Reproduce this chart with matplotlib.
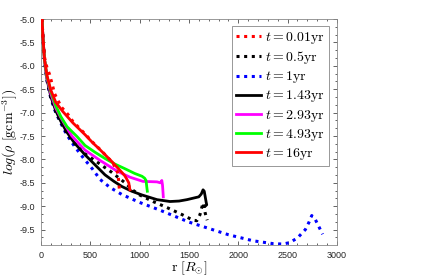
import matplotlib
matplotlib.use('Agg')
import matplotlib.pyplot as plt
from matplotlib.ticker import MultipleLocator, AutoMinorLocator

plt.rcParams['mathtext.fontset'] = 'cm'
plt.rcParams['axes.unicode_minus'] = False
plt.rcParams['font.family'] = ['Liberation Sans', 'DejaVu Sans']

# radius [R_sun] and log density for each snapshot
r_001 = [10, 20, 37, 60, 88, 139, 206, 274, 324, 426, 527, 600, 669, 730, 781, 795]
y_001 = [-5.0, -5.4, -5.83, -6.03, -6.19, -6.6, -6.88, -7.04, -7.19, -7.41, -7.64, -7.79, -7.94, -8.08, -8.3, -8.65]

r_05 = [10, 20, 35, 60, 100, 150, 200, 260, 340, 446, 578, 720, 852, 933, 1000, 1136, 1278, 1430, 1542, 1580, 1612, 1630, 1643, 1652, 1665, 1685]
y_05 = [-5.0, -5.4, -5.85, -6.3, -6.68, -6.98, -7.2, -7.43, -7.66, -7.88, -8.07, -8.28, -8.5, -8.66, -8.76, -8.9, -9.03, -9.18, -9.3, -9.31, -9.18, -9.03, -8.93, -9.0, -9.15, -9.3]

r_1 = [10, 20, 35, 60, 100, 150, 200, 260, 340, 430, 520, 600, 700, 820, 1000, 1200, 1500, 1900, 2150, 2350, 2450, 2520, 2600, 2680, 2720, 2745, 2780, 2820, 2855]
y_1 = [-5.0, -5.4, -5.85, -6.3, -6.7, -7.0, -7.22, -7.47, -7.72, -7.97, -8.2, -8.43, -8.6, -8.75, -8.92, -9.08, -9.34, -9.61, -9.74, -9.8, -9.81, -9.78, -9.68, -9.5, -9.33, -9.2, -9.28, -9.45, -9.6]

r_143 = [10, 20, 35, 60, 100, 150, 200, 260, 340, 446, 550, 649, 740, 821, 920, 1024, 1176, 1308, 1400, 1480, 1560, 1600, 1625, 1643, 1655, 1665, 1675, 1680, 1660, 1645]
y_143 = [-5.0, -5.4, -5.85, -6.28, -6.66, -6.96, -7.18, -7.41, -7.65, -7.9, -8.12, -8.33, -8.47, -8.58, -8.68, -8.76, -8.86, -8.9, -8.89, -8.86, -8.82, -8.8, -8.74, -8.65, -8.68, -8.8, -8.92, -8.97, -9.01, -9.0]

r_293 = [10, 20, 35, 60, 100, 150, 200, 264, 314, 446, 598, 771, 902, 1034, 1176, 1210, 1225, 1232, 1237, 1240]
y_293 = [-5.0, -5.4, -5.85, -6.25, -6.6, -6.9, -7.1, -7.33, -7.5, -7.8, -8.02, -8.25, -8.38, -8.47, -8.48, -8.5, -8.45, -8.55, -8.7, -8.8]

r_493 = [10, 20, 35, 60, 100, 150, 200, 264, 365, 446, 550, 649, 750, 852, 950, 1024, 1050, 1065, 1072, 1078]
y_493 = [-5.0, -5.4, -5.85, -6.22, -6.55, -6.85, -7.08, -7.3, -7.51, -7.7, -7.85, -7.98, -8.1, -8.2, -8.3, -8.36, -8.4, -8.45, -8.58, -8.68]

r_16 = [10, 20, 35, 60, 100, 150, 223, 324, 446, 527, 578, 650, 720, 821, 850, 872, 890, 902]
y_16 = [-5.0, -5.4, -5.85, -6.2, -6.52, -6.78, -6.98, -7.22, -7.47, -7.65, -7.75, -7.9, -8.05, -8.28, -8.35, -8.43, -8.5, -8.65]

fig = plt.figure(figsize=(4.47, 2.77), dpi=100)
ax = fig.add_axes([0.0917, 0.1155, 0.662, 0.8155])

dots = (1, 1.5)
ax.plot(r_001, y_001, color='#ff0000', lw=2.2, dashes=dots, label=r'$t = 0.01\mathrm{yr}$', zorder=9)
ax.plot(r_05, y_05, color='black', lw=2.2, dashes=dots, label=r'$t = 0.5\mathrm{yr}$', zorder=3)
ax.plot(r_1, y_1, color='#0000ff', lw=2.2, dashes=dots, label=r'$t = 1\mathrm{yr}$', zorder=2)
ax.plot(r_143, y_143, color='black', lw=2, label=r'$t = 1.43\mathrm{yr}$', zorder=4)
ax.plot(r_293, y_293, color='#ff00ff', lw=2, label=r'$t = 2.93\mathrm{yr}$', zorder=5)
ax.plot(r_493, y_493, color='#00ff00', lw=2, label=r'$t = 4.93\mathrm{yr}$', zorder=6)
ax.plot(r_16, y_16, color='#ff0000', lw=2, label=r'$t = 16\mathrm{yr}$', zorder=7)

ax.set_xlim(0, 3000)
ax.set_ylim(-9.83, -5)
ax.xaxis.set_major_locator(MultipleLocator(500))
ax.xaxis.set_minor_locator(AutoMinorLocator(5))
ax.yaxis.set_major_locator(MultipleLocator(0.5))
ax.yaxis.set_minor_locator(AutoMinorLocator(3))
ax.tick_params(which='both', direction='in', top=True, right=True,
               labelsize=6.5, colors='#262626', width=0.5, pad=4)
ax.tick_params(which='major', length=3)
ax.tick_params(which='minor', length=1.5)
for s in ax.spines.values():
    s.set_color('#888888')
    s.set_linewidth(0.6)

ax.set_xlabel(r'$\mathrm{r}\ [R_{\odot}]$', fontsize=10, labelpad=0)
ax.set_ylabel(r'$log(\rho\ [\mathrm{gcm}^{-3}])$', fontsize=10, labelpad=0)

leg = ax.legend(loc='upper right', bbox_to_anchor=(0.973, 0.969), borderaxespad=0,
                fontsize=10, handlelength=1.8, handletextpad=0.3, labelspacing=0.22,
                borderpad=0.3, fancybox=False, framealpha=1)
leg.get_frame().set_edgecolor('#888888')
leg.get_frame().set_linewidth(0.6)

fig.savefig('out.png', dpi=100)
